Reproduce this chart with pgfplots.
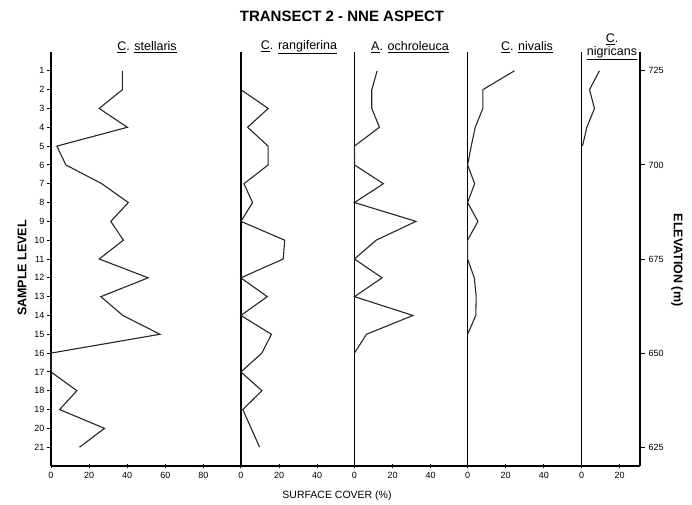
\documentclass[border=0pt]{standalone}
\usepackage{pgfplots}
\pgfplotsset{compat=1.18}
\usepackage{pgfplotstable}
\usepackage{fontspec}
\setmainfont{Liberation Sans}
\pgfplotstableread{
l v
1 37.5
2 37.5
3 25.3
4 40.1
5 3.1
6 7.8
7 26.7
8 40.6
9 31.4
10 38.0
11 25.3
12 51.0
13 26.2
14 37.7
15 57.2
16 0
17 0
18 13.6
19 4.5
20 28.1
21 15.0
}\stellaris
\pgfplotstableread{
l v
2 0
3 14.3
4 3.5
5 14.3
6 14.3
7 1.6
8 6.1
9 0
10 23.0
11 22.2
12 0
13 13.8
14 0
15 16.0
16 11.0
17 0
18 11.0
19 1.0
20 5.4
21 9.8
}\rangiferina
\pgfplotstableread{
l v
1 11.9
2 9.1
3 9.1
4 13.1
5 0
6 0
7 15.2
8 0
9 32.3
10 11.4
11 0
12 14.5
13 0
14 30.7
15 6.3
16 0
}\ochroleuca
\pgfplotstableread{
l v
1 24.6
2 8.0
3 8.0
4 4.0
5 1.9
6 0
7 3.7
8 0
9 5.4
10 0
11 0
12 3.5
13 4.5
14 4.3
15 0
}\nivalis
\pgfplotstableread{
l v
1 9.4
2 4.2
3 6.8
4 2.8
5 0.5
}\nigricans
\begin{document}
\begin{tikzpicture}
\path[use as bounding box] (-51pt,-38pt) rectangle (641pt,466pt);
\begin{axis}[
  at={(0pt,0pt)}, anchor=south west,
  scale only axis, width=589pt, height=414pt,
  xmin=0, xmax=309.2, ymin=0, ymax=22, y dir=reverse,
  axis x line*=bottom, axis y line*=left,
  axis line style={-, line width=1.2pt},
  xtick={0,20,40,60,80,99.7,119.7,139.7,159.3,179.3,199.3,218.7,238.7,258.7,278.5,298.5},
  xticklabels={0,20,40,60,80,0,20,40,0,20,40,0,20,40,0,20},
  ytick={1,...,21},
  tick align=outside, major tick length=4pt,
  tick style={black, line width=0.9pt},
  every major x tick/.append style={yshift=2pt},
  /pgf/number format/assume math mode=true,
  ticklabel style={font=\fontsize{9}{10}\selectfont},
  yticklabel style={xshift=1pt},
  xticklabel style={yshift=1pt},
  clip=false,
]
\draw[line width=1.2pt] (axis cs:99.7,0) -- (axis cs:99.7,22);
\draw[line width=1.2pt] (axis cs:159.3,0) -- (axis cs:159.3,22);
\draw[line width=1.2pt] (axis cs:218.7,0) -- (axis cs:218.7,22);
\draw[line width=1.2pt] (axis cs:278.5,0) -- (axis cs:278.5,22);
\addplot[black!85, line width=1.1pt, mark=none] table[x=v, y=l] {\stellaris};
\addplot[black!85, line width=1.1pt, mark=none] table[x expr=\thisrow{v}+99.7, y=l] {\rangiferina};
\addplot[black!85, line width=1.1pt, mark=none] table[x expr=\thisrow{v}+159.3, y=l] {\ochroleuca};
\addplot[black!85, line width=1.1pt, mark=none] table[x expr=\thisrow{v}+218.7, y=l] {\nivalis};
\addplot[black!85, line width=1.1pt, mark=none] table[x expr=\thisrow{v}+278.5, y=l] {\nigricans};
\end{axis}
\begin{axis}[
  at={(0pt,0pt)}, anchor=south west,
  scale only axis, width=589pt, height=414pt,
  xmin=0, xmax=1, ymin=620, ymax=730,
  axis x line=none, axis y line*=right,
  axis line style={-, line width=1.2pt},
  ytick={625,650,675,700,725},
  tick align=outside, major tick length=5pt,
  tick style={black, line width=0.9pt},
  /pgf/number format/assume math mode=true,
  ticklabel style={font=\fontsize{9}{10}\selectfont},
]
\end{axis}
\node[font=\bfseries\fontsize{15}{17}\selectfont] at (291pt,450pt) {TRANSECT 2 - NNE ASPECT};
\begin{scope}[every node/.style={font=\fontsize{12.5}{14}\selectfont}]
\node at (96pt,419pt) {\underline{C}. \underline{stellaris}};
\node at (248pt,419pt) {\underline{C}. \underline{rangiferina}};
\node at (359pt,419pt) {\underline{A}. \underline{ochroleuca}};
\node at (476pt,419pt) {\underline{C}. \underline{nivalis}};
\node at (561pt,427pt) {\underline{C}.};
\node at (561pt,413pt) {\underline{nigricans}};
\end{scope}
\node[font=\bfseries\fontsize{12.5}{15}\selectfont, rotate=90] at (-29pt,198pt) {SAMPLE LEVEL};
\node[font=\bfseries\fontsize{12.5}{15}\selectfont, rotate=-90] at (626pt,206pt) {ELEVATION (m)};
\node[font=\fontsize{10.5}{12}\selectfont] at (286pt,-30pt) {SURFACE COVER (\%)};
\end{tikzpicture}
\end{document}
